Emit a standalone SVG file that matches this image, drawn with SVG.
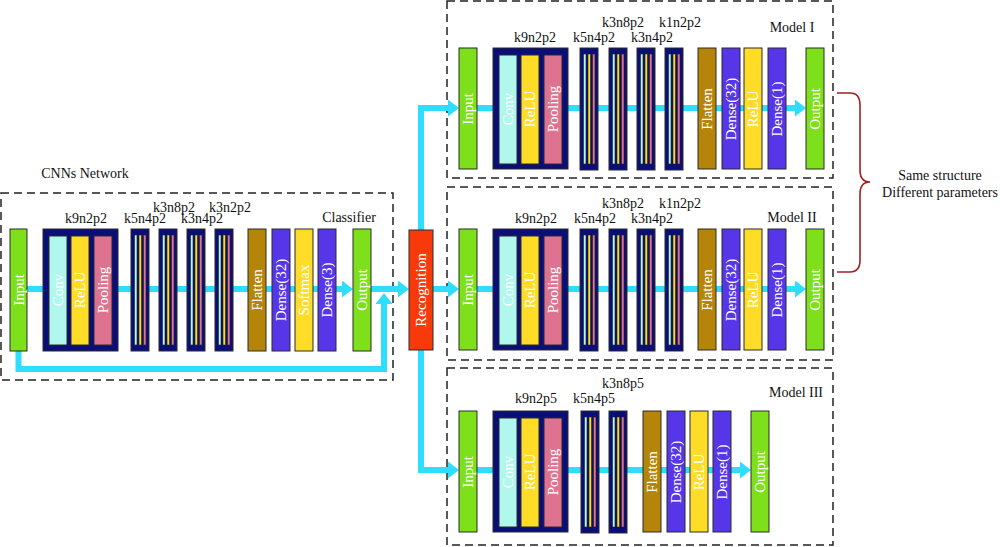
<svg xmlns="http://www.w3.org/2000/svg" xmlns:xlink="http://www.w3.org/1999/xlink" width="1000" height="547" viewBox="0 0 1000 547">
<style>
.bg{fill:#fff}
.blk{stroke:#2a2a2a;stroke-width:1}
.green{fill:#7EE01B}
.navy{fill:#0A0E78}
.conv{fill:#B0F7EE}
.relu{fill:#FFDC28}
.pool{fill:#DE7391}
.flat{fill:#B5850A}
.dense{fill:#5636E8}
.rec{fill:#F83A0A}
.lbl{font-family:"Liberation Serif",serif;font-size:14px;fill:#111;text-anchor:middle}
.wt{font-family:"Liberation Serif",serif;font-size:15px;fill:#fff;text-anchor:middle;dominant-baseline:central}
.flow{stroke:#2FDDFF;stroke-width:6;fill:none}
.dash{fill:none;stroke:#222;stroke-width:1.5;stroke-dasharray:8 5}
.brace{fill:none;stroke:#A02020;stroke-width:1.6}
.st{stroke:#222;stroke-width:0.6}
</style>
<defs>
<marker id="ah" viewBox="0 0 11 17" refX="0" refY="8.5" markerWidth="11" markerHeight="17" markerUnits="userSpaceOnUse" orient="auto">
<path d="M0,0 L11,8.5 L0,17 z" fill="#2FDDFF"/>
</marker>
<g id="sb">
<rect x="0" y="0" width="18" height="122" class="navy blk"/>
<rect x="3.5" y="6" width="2.5" height="110" class="conv st"/>
<rect x="8" y="6" width="2.5" height="110" class="relu st"/>
<rect x="12.5" y="6" width="2.5" height="110" class="pool st"/>
</g>
</defs>
<rect x="0" y="0" width="1000" height="547" class="bg"/>

<g id="frames">
<rect x="1" y="193" width="392" height="187" class="dash"/>
<rect x="447" y="1" width="386" height="177" class="dash"/>
<rect x="447" y="187" width="386" height="173" class="dash"/>
<rect x="447" y="368" width="386" height="177" class="dash"/>
</g>

<g id="connectors">
<path class="flow" d="M27,289 H342" marker-end="url(#ah)"/>
<path class="flow" d="M371,289 H398" marker-end="url(#ah)"/>
<path class="flow" d="M18.5,351 V369 H384 V304" marker-end="url(#ah)"/>
<path class="flow" d="M421,230 V108 H448" marker-end="url(#ah)"/>
<path class="flow" d="M433,289 H448" marker-end="url(#ah)"/>
<path class="flow" d="M421,350 V470 H448" marker-end="url(#ah)"/>
<path class="flow" d="M477,108 H795" marker-end="url(#ah)"/>
<path class="flow" d="M477,289 H795" marker-end="url(#ah)"/>
<path class="flow" d="M477,470 H740" marker-end="url(#ah)"/>
</g>

<!-- CNN network -->
<g id="cnn-labels">
<text class="lbl" x="85" y="178">CNNs Network</text>
<text class="lbl" x="86" y="223">k9n2p2</text>
<text class="lbl" x="145" y="223">k5n4p2</text>
<text class="lbl" x="174" y="212">k3n8p2</text>
<text class="lbl" x="202" y="223">k3n4p2</text>
<text class="lbl" x="230" y="212">k3n2p2</text>
<text class="lbl" x="349" y="222">Classifier</text>
</g>
<g id="cnn-input"><rect x="10" y="229" width="17" height="122" class="green blk"/><text class="wt" transform="translate(18.5,290) rotate(-90)">Input</text></g>
<g id="cnn-conv">
<rect x="43" y="229" width="75" height="122" class="navy blk"/>
<rect x="49" y="236" width="18" height="109" class="conv blk"/>
<rect x="71" y="236" width="18" height="109" class="relu blk"/>
<rect x="94" y="236" width="18" height="109" class="pool blk"/>
<text class="wt" transform="translate(58,290) rotate(-90)">Conv</text>
<text class="wt" transform="translate(80,290) rotate(-90)">ReLU</text>
<text class="wt" transform="translate(103,290) rotate(-90)">Pooling</text>
</g>
<g id="cnn-c1"><use xlink:href="#sb" x="131" y="229"/></g>
<g id="cnn-c2"><use xlink:href="#sb" x="159" y="229"/></g>
<g id="cnn-c3"><use xlink:href="#sb" x="187" y="229"/></g>
<g id="cnn-c4"><use xlink:href="#sb" x="215" y="229"/></g>
<g id="cnn-flatten"><rect x="248" y="229" width="18" height="122" class="flat blk"/><text class="wt" transform="translate(257,290) rotate(-90)">Flatten</text></g>
<g id="cnn-dense32"><rect x="272" y="229" width="18" height="122" class="dense blk"/><text class="wt" transform="translate(281,290) rotate(-90)">Dense(32)</text></g>
<g id="cnn-softmax"><rect x="295" y="229" width="18" height="122" class="relu blk"/><text class="wt" transform="translate(304,290) rotate(-90)">Softmax</text></g>
<g id="cnn-dense3"><rect x="318" y="229" width="18" height="122" class="dense blk"/><text class="wt" transform="translate(327,290) rotate(-90)">Dense(3)</text></g>
<g id="cnn-output"><rect x="353" y="229" width="18" height="122" class="green blk"/><text class="wt" transform="translate(362,290) rotate(-90)">Output</text></g>

<g id="recognition"><rect x="409" y="230" width="24" height="120" class="rec blk"/><text class="wt" transform="translate(421,290) rotate(-90)">Recognition</text></g>

<!-- Model I -->
<g id="m1-labels">
<text class="lbl" x="535" y="42">k9n2p2</text>
<text class="lbl" x="594" y="42">k5n4p2</text>
<text class="lbl" x="623" y="27">k3n8p2</text>
<text class="lbl" x="652" y="42">k3n4p2</text>
<text class="lbl" x="680" y="27">k1n2p2</text>
<text class="lbl" x="792" y="32">Model I</text>
</g>
<g id="m1-input"><rect x="459" y="48" width="18" height="121" class="green blk"/><text class="wt" transform="translate(468,109) rotate(-90)">Input</text></g>
<g id="m1-conv">
<rect x="493" y="48" width="75" height="121" class="navy blk"/>
<rect x="499" y="55" width="18" height="109" class="conv blk"/>
<rect x="521" y="55" width="18" height="109" class="relu blk"/>
<rect x="544" y="55" width="18" height="109" class="pool blk"/>
<text class="wt" transform="translate(508,109) rotate(-90)">Conv</text>
<text class="wt" transform="translate(530,109) rotate(-90)">ReLU</text>
<text class="wt" transform="translate(553,109) rotate(-90)">Pooling</text>
</g>
<g id="m1-c1"><use xlink:href="#sb" x="580" y="48"/></g>
<g id="m1-c2"><use xlink:href="#sb" x="609" y="48"/></g>
<g id="m1-c3"><use xlink:href="#sb" x="637" y="48"/></g>
<g id="m1-c4"><use xlink:href="#sb" x="665" y="48"/></g>
<g id="m1-flatten"><rect x="698" y="48" width="18" height="121" class="flat blk"/><text class="wt" transform="translate(707,109) rotate(-90)">Flatten</text></g>
<g id="m1-dense32"><rect x="722" y="48" width="18" height="121" class="dense blk"/><text class="wt" transform="translate(731,109) rotate(-90)">Dense(32)</text></g>
<g id="m1-relu"><rect x="744" y="48" width="18" height="121" class="relu blk"/><text class="wt" transform="translate(753,109) rotate(-90)">ReLU</text></g>
<g id="m1-dense1"><rect x="768" y="48" width="18" height="121" class="dense blk"/><text class="wt" transform="translate(777,109) rotate(-90)">Dense(1)</text></g>
<g id="m1-output"><rect x="806" y="48" width="18" height="121" class="green blk"/><text class="wt" transform="translate(815,109) rotate(-90)">Output</text></g>

<!-- Model II -->
<g id="m2-labels">
<text class="lbl" x="536" y="223">k9n2p2</text>
<text class="lbl" x="595" y="223">k5n4p2</text>
<text class="lbl" x="623" y="208">k3n8p2</text>
<text class="lbl" x="652" y="223">k3n4p2</text>
<text class="lbl" x="680" y="208">k1n2p2</text>
<text class="lbl" x="792" y="222">Model II</text>
</g>
<g id="m2-input"><rect x="459" y="229" width="18" height="121" class="green blk"/><text class="wt" transform="translate(468,290) rotate(-90)">Input</text></g>
<g id="m2-conv">
<rect x="493" y="229" width="75" height="121" class="navy blk"/>
<rect x="499" y="236" width="18" height="109" class="conv blk"/>
<rect x="521" y="236" width="18" height="109" class="relu blk"/>
<rect x="544" y="236" width="18" height="109" class="pool blk"/>
<text class="wt" transform="translate(508,290) rotate(-90)">Conv</text>
<text class="wt" transform="translate(530,290) rotate(-90)">ReLU</text>
<text class="wt" transform="translate(553,290) rotate(-90)">Pooling</text>
</g>
<g id="m2-c1"><use xlink:href="#sb" x="580" y="229"/></g>
<g id="m2-c2"><use xlink:href="#sb" x="609" y="229"/></g>
<g id="m2-c3"><use xlink:href="#sb" x="637" y="229"/></g>
<g id="m2-c4"><use xlink:href="#sb" x="665" y="229"/></g>
<g id="m2-flatten"><rect x="698" y="229" width="18" height="121" class="flat blk"/><text class="wt" transform="translate(707,290) rotate(-90)">Flatten</text></g>
<g id="m2-dense32"><rect x="722" y="229" width="18" height="121" class="dense blk"/><text class="wt" transform="translate(731,290) rotate(-90)">Dense(32)</text></g>
<g id="m2-relu"><rect x="744" y="229" width="18" height="121" class="relu blk"/><text class="wt" transform="translate(753,290) rotate(-90)">ReLU</text></g>
<g id="m2-dense1"><rect x="768" y="229" width="18" height="121" class="dense blk"/><text class="wt" transform="translate(777,290) rotate(-90)">Dense(1)</text></g>
<g id="m2-output"><rect x="806" y="229" width="18" height="121" class="green blk"/><text class="wt" transform="translate(815,290) rotate(-90)">Output</text></g>

<!-- Model III -->
<g id="m3-labels">
<text class="lbl" x="536" y="403">k9n2p5</text>
<text class="lbl" x="594" y="403">k5n4p5</text>
<text class="lbl" x="623" y="388">k3n8p5</text>
<text class="lbl" x="796" y="397">Model III</text>
</g>
<g id="m3-input"><rect x="459" y="411" width="18" height="121" class="green blk"/><text class="wt" transform="translate(468,472) rotate(-90)">Input</text></g>
<g id="m3-conv">
<rect x="493" y="411" width="75" height="121" class="navy blk"/>
<rect x="499" y="418" width="18" height="109" class="conv blk"/>
<rect x="521" y="418" width="18" height="109" class="relu blk"/>
<rect x="544" y="418" width="18" height="109" class="pool blk"/>
<text class="wt" transform="translate(508,472) rotate(-90)">Conv</text>
<text class="wt" transform="translate(530,472) rotate(-90)">ReLU</text>
<text class="wt" transform="translate(553,472) rotate(-90)">Pooling</text>
</g>
<g id="m3-c1"><use xlink:href="#sb" x="581" y="411"/></g>
<g id="m3-c2"><use xlink:href="#sb" x="609" y="411"/></g>
<g id="m3-flatten"><rect x="643" y="411" width="18" height="121" class="flat blk"/><text class="wt" transform="translate(652,472) rotate(-90)">Flatten</text></g>
<g id="m3-dense32"><rect x="667" y="411" width="18" height="121" class="dense blk"/><text class="wt" transform="translate(676,472) rotate(-90)">Dense(32)</text></g>
<g id="m3-relu"><rect x="690" y="411" width="18" height="121" class="relu blk"/><text class="wt" transform="translate(699,472) rotate(-90)">ReLU</text></g>
<g id="m3-dense1"><rect x="713" y="411" width="18" height="121" class="dense blk"/><text class="wt" transform="translate(722,472) rotate(-90)">Dense(1)</text></g>
<g id="m3-output"><rect x="751" y="411" width="18" height="121" class="green blk"/><text class="wt" transform="translate(760,472) rotate(-90)">Output</text></g>

<g id="brace-note">
<path class="brace" d="M837,93 H850 Q860,93 860,105 V170 Q860,182 870,182 Q860,182 860,194 V260 Q860,272 850,272 H837"/>
<text class="lbl" x="940" y="180">Same structure</text>
<text class="lbl" x="940" y="197">Different parameters</text>
</g>
</svg>
